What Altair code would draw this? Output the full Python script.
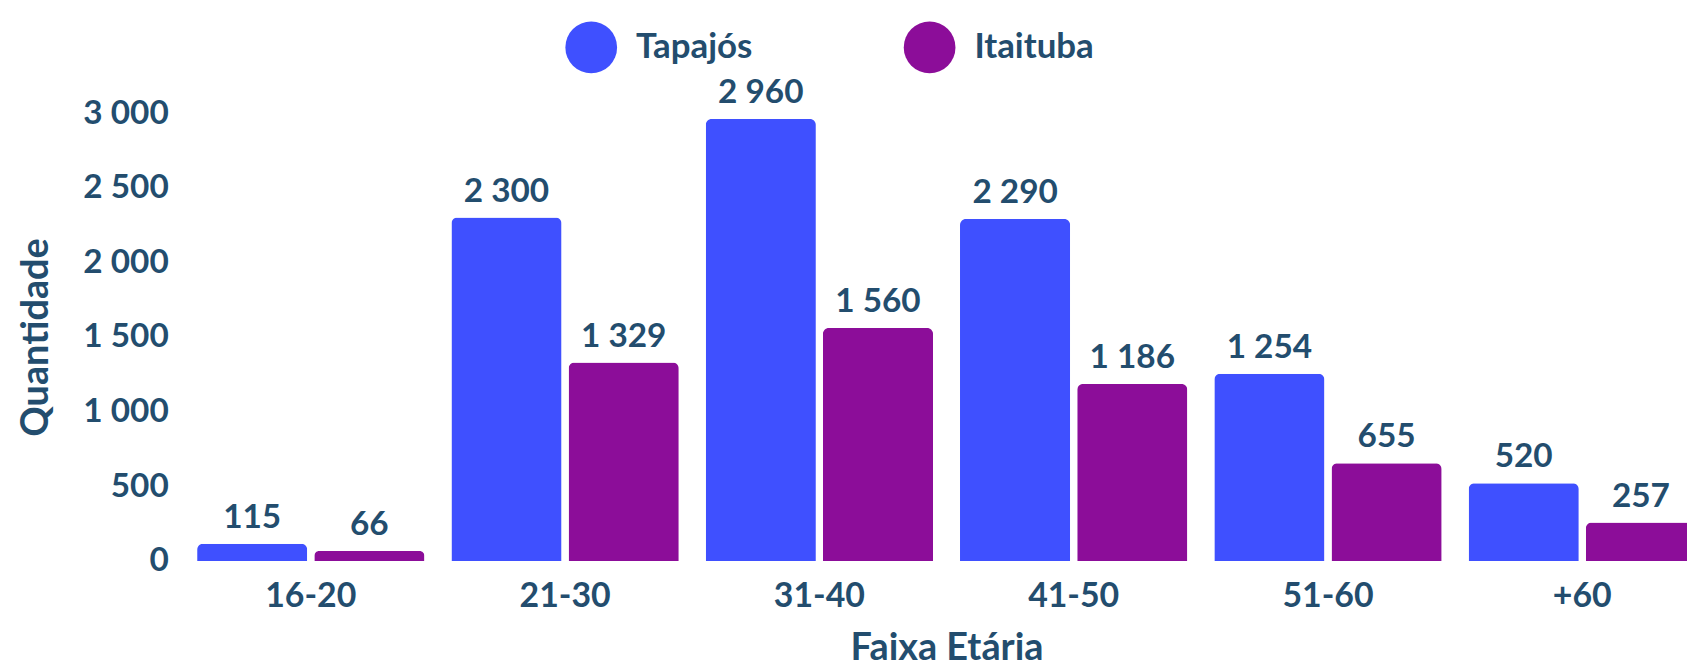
import altair as alt
import pandas as pd

categories = ["16-20", "21-30", "31-40", "41-50", "51-60", "+60"]
series = ["Tapajós", "Itaituba"]
tapajos = [115, 2300, 2960, 2290, 1254, 520]
itaituba = [66, 1329, 1560, 1186, 655, 257]
y_ticks = [0, 500, 1000, 1500, 2000, 2500, 3000]
colors = ["#3F50FF", "#8C0D99"]
text_color = "#234D6E"
FONT = "Lato"

rows = []
for c, a, b in zip(categories, tapajos, itaituba):
    rows.append({"faixa": c, "serie": series[0], "valor": a})
    rows.append({"faixa": c, "serie": series[1], "valor": b})
df = pd.DataFrame(rows)

x_enc = alt.X(
    "faixa:N",
    sort=categories,
    title="Faixa Etária",
    scale=alt.Scale(paddingInner=0.106, paddingOuter=0, range=[0, 1506]),
    axis=alt.Axis(
        domain=False, ticks=False, tickSize=0, grid=False, labelAngle=0,
        labelPadding=46, labelBaseline="alphabetic",
        labelFont=FONT, labelFontSize=34, labelFontWeight="bold", labelColor=text_color,
        titleFont=FONT, titleFontSize=38, titleFontWeight="bold", titleColor=text_color,
        titleX=753, titleY=99, titleBaseline="alphabetic", titleAlign="center",
    ),
)
xo_enc = alt.XOffset("serie:N", sort=series, scale=alt.Scale(paddingInner=0.06))
y_enc = alt.Y(
    "valor:Q",
    title="Quantidade",
    scale=alt.Scale(domain=[0, 3000], nice=False),
    axis=alt.Axis(
        values=y_ticks, domain=False, ticks=False, tickSize=0, grid=False,
        labelExpr="replace(format(datum.value, ','), ',', ' ')",
        labelPadding=29, labelFont=FONT, labelFontSize=33.5, labelFontWeight="bold",
        labelColor=text_color,
        titleFont=FONT, titleFontSize=38, titleFontWeight="bold", titleColor=text_color,
        titleX=-150, titleY=225, titleAngle=270, titleBaseline="alphabetic", titleAlign="center",
    ),
)

base = alt.Chart(df)

bars = base.mark_bar(cornerRadiusTopLeft=6, cornerRadiusTopRight=6).encode(
    x=x_enc,
    xOffset=xo_enc,
    y=y_enc,
    color=alt.Color(
        "serie:N",
        sort=series,
        scale=alt.Scale(domain=series, range=colors),
        legend=alt.Legend(
            orient="none", legendX=370, legendY=-92, direction="horizontal",
            title=None, symbolType="circle", symbolSize=2700, symbolOpacity=1,
            symbolStrokeWidth=0, labelFont=FONT, labelFontSize=35, labelFontWeight="bold",
            labelColor=text_color, labelOffset=19, columnPadding=152,
        ),
    ),
)

labels = base.mark_text(
    baseline="alphabetic", align="center", dy=-16,
    font=FONT, fontSize=33.5, fontWeight="bold", color=text_color,
).encode(
    x=x_enc,
    xOffset=xo_enc,
    y=y_enc,
    text="label:N",
).transform_calculate(label="replace(format(datum.valor, ','), ',', ' ')")

chart = alt.layer(bars, labels).properties(
    width=1497,
    height=450,
    autosize=alt.AutoSizeParams(type="none"),
    padding={"left": 190, "top": 104, "right": 0, "bottom": 106},
).configure(font=FONT).configure_view(stroke=None)

chart.save("out.html", embed_options={"renderer": "svg", "actions": False})
